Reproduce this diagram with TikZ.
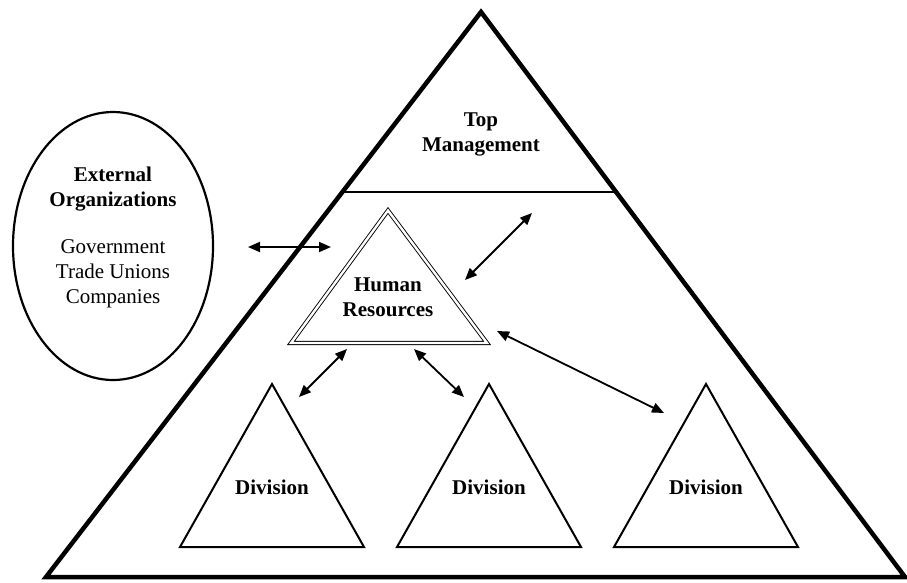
\documentclass[tikz,border=0pt]{standalone}
\usepackage{fontspec}
\setmainfont{Liberation Serif}
\usetikzlibrary{arrows.meta,shapes.geometric,calc}
\begin{document}
\begin{tikzpicture}[x=1pt,y=-1pt,
  lbl/.style={align=center,inner sep=0pt,font=\fontsize{21}{25}\selectfont},
  blbl/.style={align=center,inner sep=0pt,font=\fontsize{21}{25}\selectfont\bfseries},
  conn/.style={line width=1.8pt,{Triangle[length=12pt,width=10pt]}-{Triangle[length=12pt,width=10pt]}},
  divtri/.style={line width=2pt,line join=miter},
  bigtri/.style={line width=4.5pt,line join=miter},
  hrtri/.style={double,double distance=2.4pt,line width=0.9pt,line join=miter},
]
\useasboundingbox (0,0) rectangle (907,582);

% big pyramid
\coordinate (apex) at (481,12);
\coordinate (bl) at (46,577);
\coordinate (br) at (905,577);
\draw[bigtri] (bl) -- (apex) -- (br) -- cycle;
\coordinate (tmL) at ($(bl)!0.6814!(apex)$);
\coordinate (tmR) at ($(br)!0.6814!(apex)$);
\draw[line width=2.3pt] (tmL) -- (tmR);
\node[blbl] (top) at (481,134) {Top\\Management};

% external organisations
\node[ellipse,draw,line width=2.2pt,minimum width=200pt,minimum height=268pt,inner sep=0pt] (ext) at (113,246) {};
\node[blbl] (extT) at (113,189) {External\\Organizations};
\node[lbl] (extL) at (113,274) {Government\\Trade Unions\\Companies};

% human resources
\coordinate (hrA) at (388,210.5);
\coordinate (hrL) at (291,343);
\coordinate (hrR) at (487,343);
\draw[hrtri] (hrL) -- (hrA) -- (hrR) -- cycle;
\node[blbl] (hr) at (388,297) {Human\\Resources};

% divisions
\foreach \i/\cx in {1/272,2/489,3/706}{
  \draw[divtri] (\cx-92,547) -- (\cx,384) -- (\cx+92,547) -- cycle;
  \node[blbl] (div\i) at (\cx,487) {Division};
}

% connectors
\coordinate (h1) at (248,247);
\coordinate (h2) at (331,247);
\draw[conn] (h1) -- (h2);
\coordinate (t1) at (532,213);
\coordinate (t2) at (465,280);
\draw[conn] (t1) -- (t2);
\coordinate (l1) at (497,331);
\coordinate (l2) at (664,413);
\draw[conn] (l1) -- (l2);
\coordinate (d1a) at (347,349);
\coordinate (d1b) at (299,397);
\draw[conn] (d1a) -- (d1b);
\coordinate (d2a) at (414,349);
\coordinate (d2b) at (464,397);
\draw[conn] (d2a) -- (d2b);
\end{tikzpicture}
\end{document}
